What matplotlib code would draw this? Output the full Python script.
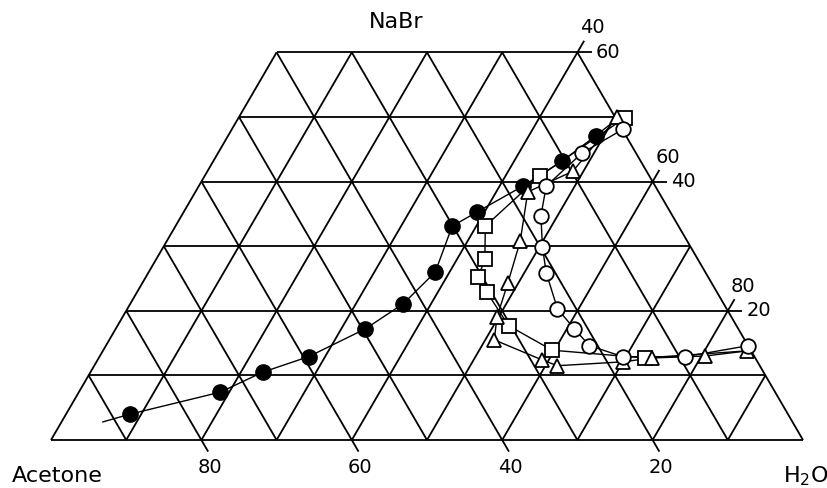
import matplotlib
matplotlib.use("Agg")
import matplotlib.pyplot as plt

# ternary data in percent (H2O, NaBr); acetone = 100 - H2O - NaBr
filled_h2o = [8.5, 18.8, 22.9, 27.8, 33.2, 36.3, 38.1, 36.8, 39.0, 43.1, 46.4, 48.9]
filled_nabr = [4.0, 7.4, 10.5, 12.9, 17.2, 21.1, 26.0, 33.1, 35.3, 39.3, 43.2, 47.1]
filled_line_start = (5.5, 2.8)
filled_line_end = (50.6, 50.0)

square_h2o = [51.4, 44.6, 41.2, 43.7, 44.2, 46.5, 52.0, 59.7, 72.6]
square_nabr = [49.9, 40.9, 33.1, 28.0, 25.2, 22.9, 17.7, 13.9, 12.7]
square_line_end = (85.7, 13.8)

tri_h2o = [50.3, 48.6, 44.2, 47.0, 48.6, 49.8, 51.2, 59.1, 61.6, 70.0, 73.6, 80.5, 85.7]
tri_nabr = [50.0, 41.6, 38.4, 30.8, 24.3, 19.0, 15.5, 12.4, 11.5, 12.1, 12.7, 13.0, 13.8]

circle_h2o = [52.0, 48.4, 46.2, 47.8, 50.4, 52.9, 57.2, 61.0, 64.3, 69.6, 77.9, 85.4]
circle_nabr = [48.1, 44.4, 39.3, 34.7, 29.9, 25.9, 20.3, 17.2, 14.6, 12.9, 12.9, 14.6]

base_ticks = [80, 60, 40, 20]      # acetone
side_ticks = [20, 40, 60]          # NaBr (H2O = 100 - NaBr)
nabr_max = 60


def tx(h2o, nabr):
    return [w + n / 2 for w, n in zip(h2o, nabr)]


fig = plt.figure(figsize=(8.27, 4.88), dpi=100)
ax = fig.add_axes([0, 0, 1, 1])
ax.set_xlim(-51 / 7.52, 776 / 7.52)
ax.set_ylim(-48 / 6.46, 440 / 6.46)
ax.axis("off")

grid_kw = dict(color="black", lw=1.3, zorder=1, solid_capstyle="butt")

# horizontal lines (constant NaBr)
for n in range(0, nabr_max + 1, 10):
    ax.plot([n / 2, 100 - n / 2], [n, n], **grid_kw)
# constant H2O lines
for k in range(0, 100, 10):
    n1 = min(nabr_max, 100 - k)
    ax.plot(tx([k, k], [0, n1]), [0, n1], **grid_kw)
# constant acetone lines
for k in range(0, 100, 10):
    n1 = min(nabr_max, 100 - k)
    ax.plot(tx([100 - k, 100 - k - n1], [0, n1]), [0, n1], **grid_kw)

# tick marks and labels on the base (acetone %)
for k in base_ticks:
    ax.plot(tx([100 - k, 100 - k + 1.8], [0, -1.8]), [0, -1.8], **grid_kw)
    ax.text(100 - k + 1.1, -5.1, str(k), ha="center", va="baseline", fontsize=14)

# tick marks and labels on the right side
for n in side_ticks:
    w = 100 - n
    x0 = w + n / 2
    ax.plot([x0, x0 + 1.9], [n, n], **grid_kw)
    ax.plot(tx([w, w], [n, n + 1.8]), [n, n + 1.8], **grid_kw)
    ax.text(x0 + 2.0, n + 3.8, str(w), ha="center", va="center", fontsize=14)
    ax.text(x0 + 4.1, n, str(n), ha="center", va="center", fontsize=14)

# component labels
ax.text(45.9, 63.8, "NaBr", ha="center", va="baseline", fontsize=16)
ax.text(-5.2, -6.5, "Acetone", ha="left", va="baseline", fontsize=16)
ax.text(97.3, -6.6, "H$_2$O", ha="left", va="baseline", fontsize=16)

# curves
line_kw = dict(color="black", lw=1.0, zorder=2)
fl_h = [filled_line_start[0]] + filled_h2o + [filled_line_end[0]]
fl_n = [filled_line_start[1]] + filled_nabr + [filled_line_end[1]]
ax.plot(tx(fl_h, fl_n), fl_n, **line_kw)
sq_h = square_h2o + [square_line_end[0]]
sq_n = square_nabr + [square_line_end[1]]
ax.plot(tx(sq_h, sq_n), sq_n, **line_kw)
ax.plot(tx(tri_h2o, tri_nabr), tri_nabr, **line_kw)
ax.plot(tx(circle_h2o, circle_nabr), circle_nabr, **line_kw)

# markers
ax.plot(tx(filled_h2o, filled_nabr), filled_nabr, "o", ms=11,
        mfc="black", mec="black", zorder=4)
ax.plot(tx(square_h2o, square_nabr), square_nabr, "s", ms=9.5,
        mfc="white", mec="black", mew=1.3, zorder=4)
ax.plot(tx(tri_h2o, tri_nabr), tri_nabr, "^", ms=10,
        mfc="white", mec="black", mew=1.3, zorder=4)
ax.plot(tx(circle_h2o, circle_nabr), circle_nabr, "o", ms=10.5,
        mfc="white", mec="black", mew=1.3, zorder=4)

fig.savefig("out.png", dpi=100)
